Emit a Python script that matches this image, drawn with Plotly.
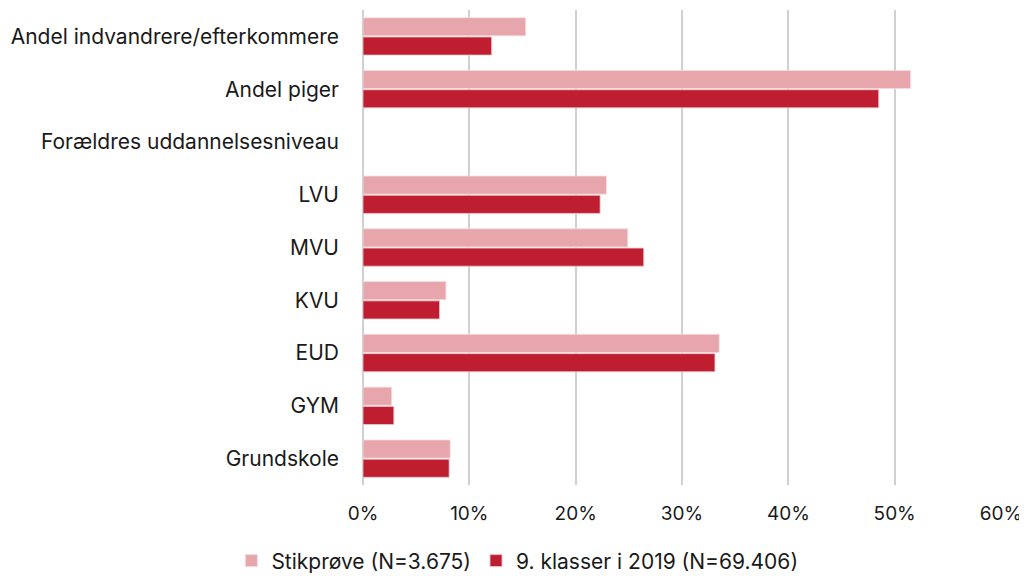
import plotly.graph_objects as go

categories = ["Andel indvandrere/efterkommere", "Andel piger", "Forældres uddannelsesniveau",
              "LVU", "MVU", "KVU", "EUD", "GYM", "Grundskole"]
stikproeve = [0.153, 0.515, None, 0.229, 0.249, 0.078, 0.335, 0.027, 0.082]
klasser_2019 = [0.121, 0.485, None, 0.223, 0.264, 0.072, 0.331, 0.029, 0.081]
series_names = ["Stikprøve (N=3.675)", "9. klasser i 2019 (N=69.406)"]
tick_vals = [0, 0.1, 0.2, 0.3, 0.4, 0.5, 0.6]

font_family = "Inter, Roboto, sans-serif"

fig = go.Figure()
fig.add_trace(go.Bar(y=categories, x=stikproeve, orientation="h", name=series_names[0],
                     marker=dict(color="#E6A6AC", line=dict(color="#F6DDE0", width=0.8))))
fig.add_trace(go.Bar(y=categories, x=klasser_2019, orientation="h", name=series_names[1],
                     marker=dict(color="#BE1E2F", line=dict(color="#F0C8CC", width=0.8))))

fig.update_layout(
    width=1027, height=576,
    margin=dict(l=355, r=34, t=2, b=99, autoexpand=False),
    barmode="group", bargap=0.27, bargroupgap=0.06,
    plot_bgcolor="white", paper_bgcolor="white",
    font=dict(family=font_family, size=21, color="#1a1a1a"),
    legend=dict(orientation="h", xref="container", yref="container",
                x=0.496, xanchor="center", y=0.04, yanchor="middle",
                font=dict(size=21), itemwidth=30, traceorder="normal"),
    xaxis=dict(range=[0, 0.6], tickvals=tick_vals, tickformat=".0%",
               showgrid=True, gridcolor="#D0D0D0", gridwidth=2,
               zeroline=True, zerolinecolor="#D0D0D0", zerolinewidth=2,
               showline=False, ticks="", ticklabelstandoff=15, automargin=False,
               tickfont=dict(size=19)),
    yaxis=dict(autorange="reversed", showgrid=False, ticks="", ticklabelstandoff=23,
               automargin=False, tickfont=dict(size=21)),
)

fig.write_html("out.html")
